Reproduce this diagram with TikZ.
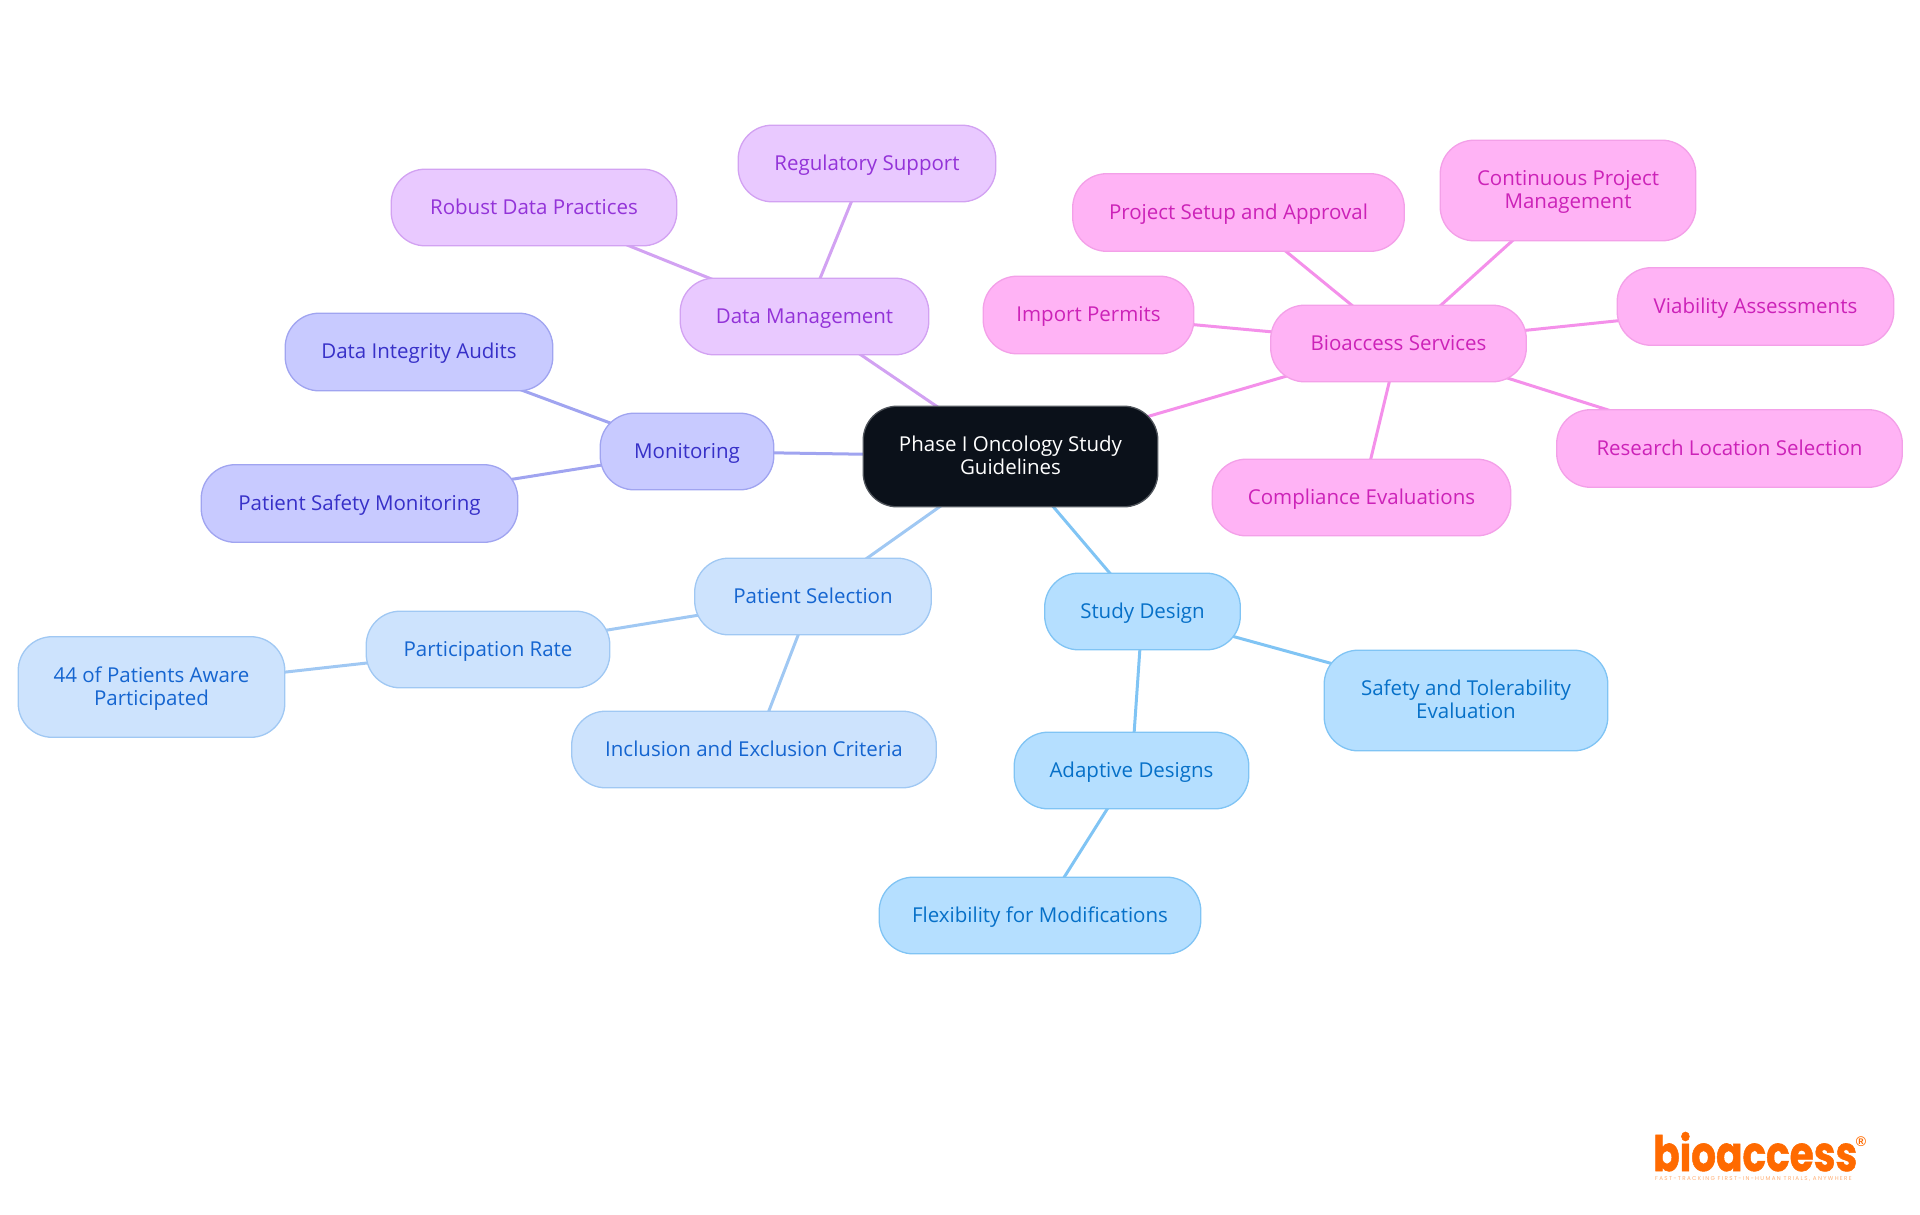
\documentclass[tikz,border=0pt]{standalone}
\usepackage{graphicx}
\usepackage{fontspec}
\setmainfont{Open Sans}
\newfontfamily\logofont{Poppins}[BoldFeatures={FakeBold=1.2}]
\newfontfamily\regfont{Liberation Sans}
\newfontfamily\tagfont[LetterSpace=24]{Poppins}
\usetikzlibrary{backgrounds}
\definecolor{pinkf}{HTML}{FFB3F5}\definecolor{pinkd}{HTML}{F3A0E8}\definecolor{pinkt}{HTML}{CC22B8}
\definecolor{purpf}{HTML}{E9C9FF}\definecolor{purpd}{HTML}{D2A2F2}\definecolor{purpt}{HTML}{9333D8}
\definecolor{indif}{HTML}{C8CAFF}\definecolor{indid}{HTML}{A0A4F0}\definecolor{indit}{HTML}{3730C8}
\definecolor{bluef}{HTML}{CDE3FD}\definecolor{blued}{HTML}{A0C8F3}\definecolor{bluet}{HTML}{1565D0}
\definecolor{skyf}{HTML}{B5DFFF}\definecolor{skyd}{HTML}{80C4F4}\definecolor{skyt}{HTML}{0670C8}
\definecolor{rootf}{HTML}{0B111A}\definecolor{rootd}{HTML}{50555C}
\definecolor{logoc}{HTML}{FF6A00}
\newcommand{\lst}{\rule[-5pt]{0pt}{23pt}}
\tikzset{
  box/.style={rounded corners=34pt,inner sep=0pt,line width=1.3pt,align=center,
    font=\fontsize{20.5}{23}\selectfont},
  pinkbox/.style={box,fill=pinkf,draw=pinkd,text=pinkt},
  purpbox/.style={box,fill=purpf,draw=purpd,text=purpt},
  indibox/.style={box,fill=indif,draw=indid,text=indit},
  bluebox/.style={box,fill=bluef,draw=blued,text=bluet},
  skybox/.style={box,fill=skyf,draw=skyd,text=skyt},
  rootbox/.style={box,fill=rootf,draw=rootd,text=white},
  wire/.style={line width=3pt},
  sz/.style 2 args={minimum width=#1pt-0.4pt,minimum height=#2pt-0.4pt}
}
\begin{document}
\begin{tikzpicture}[x=1pt,y=-1pt]
\useasboundingbox (0,0) rectangle (1920,1215);
\node[rootbox,sz={295}{101}] (root) at (1010.5,456.5) {\lst Phase I Oncology Study\\\lst Guidelines};
% Bioaccess
\node[pinkbox,sz={256}{77}] (bio) at (1398.5,343.5) {\lst Bioaccess Services};
\node[pinkbox,sz={332}{78}] (setup) at (1238.5,212.5) {\lst Project Setup and Approval};
\node[pinkbox,sz={256}{101}] (cont) at (1568,190.5) {\lst Continuous Project\\\lst Management};
\node[pinkbox,sz={211}{78}] (imp) at (1088.5,315) {\lst Import Permits};
\node[pinkbox,sz={277}{78}] (via) at (1755.5,306.5) {\lst Viability Assessments};
\node[pinkbox,sz={346}{78}] (res) at (1729.5,448.5) {\lst Research Location Selection};
\node[pinkbox,sz={299}{77}] (comp) at (1361.5,497.5) {\lst Compliance Evaluations};
% Data
\node[purpbox,sz={249}{77}] (data) at (804.5,316.5) {\lst Data Management};
\node[purpbox,sz={258}{77}] (reg) at (867,163.5) {\lst Regulatory Support};
\node[purpbox,sz={286}{77}] (rob) at (534,207.5) {\lst Robust Data Practices};
% Monitoring
\node[indibox,sz={174}{77}] (mon) at (687,451.5) {\lst Monitoring};
\node[indibox,sz={268}{78}] (audit) at (419,352) {\lst Data Integrity Audits};
\node[indibox,sz={317}{78}] (safe) at (359.5,503.5) {\lst Patient Safety Monitoring};
% Patient selection
\node[bluebox,sz={237}{77}] (sel) at (813,596.5) {\lst Patient Selection};
\node[bluebox,sz={244}{77}] (rate) at (488,649.5) {\lst Participation Rate};
\node[bluebox,sz={267}{101}] (aware) at (151.5,687) {\lst 44 of Patients Aware\\\lst Participated};
\node[bluebox,sz={365}{77}] (incl) at (754,749.5) {\lst Inclusion and Exclusion Criteria};
% Study design
\node[skybox,sz={196}{77}] (design) at (1142.5,611.5) {\lst Study Design};
\node[skybox,sz={284}{101}] (tol) at (1466,700.5) {\lst Safety and Tolerability\\\lst Evaluation};
\node[skybox,sz={235}{77}] (adapt) at (1131.5,770.5) {\lst Adaptive Designs};
\node[skybox,sz={322}{77}] (flex) at (1040,915.5) {\lst Flexibility for Modifications};
\begin{pgfonlayer}{background}
\foreach \a in {setup,cont,imp,via,res,comp,root}{\draw[wire,draw=pinkd!90!magenta] (bio.center) -- (\a.center);}
\foreach \a in {reg,rob,root}{\draw[wire,draw=purpd] (data.center) -- (\a.center);}
\foreach \a in {audit,safe,root}{\draw[wire,draw=indid] (mon.center) -- (\a.center);}
\foreach \a in {rate,incl,root}{\draw[wire,draw=blued] (sel.center) -- (\a.center);}
\draw[wire,draw=blued] (rate.center) -- (aware.center);
\foreach \a in {tol,adapt,root}{\draw[wire,draw=skyd] (design.center) -- (\a.center);}
\draw[wire,draw=skyd] (adapt.center) -- (flex.center);
\end{pgfonlayer}
% logo
\node[anchor=base west,inner sep=0pt,text=logoc,font=\logofont\bfseries\fontsize{39}{39}\selectfont] (logo) at (1653,1171) {\smash{\scalebox{1}[1.25]{bioaccess}}};
\node[anchor=center,inner sep=0pt,text=logoc,font=\regfont\bfseries\fontsize{14}{14}\selectfont] (reg2) at (1861,1141.5) {®};
\node[anchor=base west,inner sep=0pt,text=logoc!55,font=\tagfont\fontsize{5.6}{5.6}\selectfont] (tag) at (1655,1180) {FAST-TRACKING FIRST-IN-HUMAN TRIALS, ANYWHERE};
\end{tikzpicture}
\end{document}
